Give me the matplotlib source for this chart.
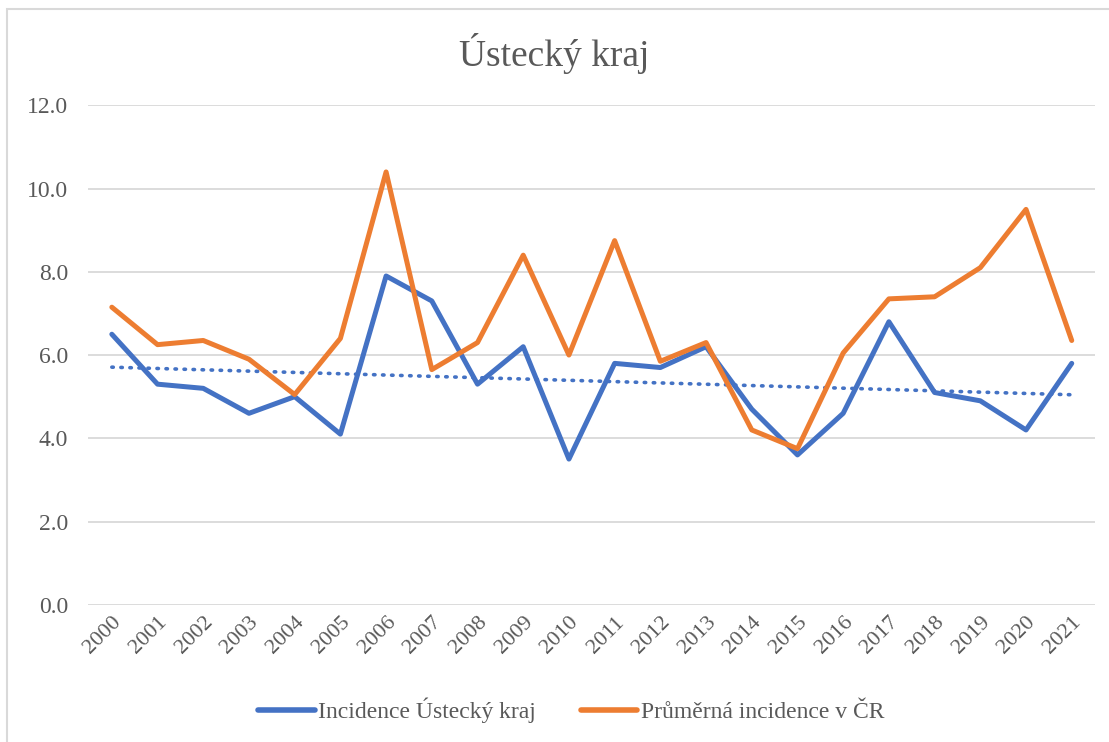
import numpy as np
import matplotlib
matplotlib.use("Agg")
import matplotlib.pyplot as plt
from matplotlib.patches import Rectangle

years = [str(y) for y in range(2000, 2022)]
usti = [6.5, 5.3, 5.2, 4.6, 5.0, 4.1, 7.9, 7.3, 5.3, 6.2, 3.5,
        5.8, 5.7, 6.2, 4.7, 3.6, 4.6, 6.8, 5.1, 4.9, 4.2, 5.8]
cr = [7.15, 6.25, 6.35, 5.9, 5.05, 6.4, 10.4, 5.65, 6.3, 8.4, 6.0,
      8.75, 5.85, 6.3, 4.2, 3.75, 6.05, 7.35, 7.4, 8.1, 9.5, 6.35]

plt.rcParams['font.family'] = ['Liberation Serif', 'DejaVu Serif']
txt = '#595959'

fig = plt.figure(figsize=(11.09, 7.42), dpi=100)
ax = fig.add_axes([0.079, 0.185, 0.908, 0.673])

x = np.arange(len(years))
ax.plot(x, usti, color='#4472C4', lw=3.6, solid_joinstyle='round', solid_capstyle='round',
        label='Incidence Ústecký kraj', zorder=3)
ax.plot(x, cr, color='#ED7D31', lw=3.6, solid_joinstyle='round', solid_capstyle='round',
        label='Průměrná incidence v ČR', zorder=3)

# linear trend of the regional series
k, q = np.polyfit(x, usti, 1)
ax.plot(x, k * x + q, color='#4472C4', lw=2.6, linestyle=(0, (0.4, 2.1)),
        dash_capstyle='round', zorder=2)

ax.set_xlim(-0.53, 21.5)
ax.set_ylim(0, 12)
ax.set_yticks(np.arange(0, 12.1, 2))
ax.set_yticklabels([f'{v:.1f}' for v in np.arange(0, 12.1, 2)])
ax.set_xticks(x)
ax.set_xticklabels(years, rotation=45, ha='right', rotation_mode='anchor')
ax.tick_params(axis='x', length=0, labelsize=16, colors=txt, pad=6)
ax.tick_params(axis='y', length=0, labelsize=17, colors=txt, pad=14)
ax.grid(axis='y', color='#D9D9D9', lw=1.3)
ax.set_axisbelow(True)
for s in ax.spines.values():
    s.set_visible(False)

fig.text(0.5, 0.928, 'Ústecký kraj', ha='center', va='center', fontsize=27, color=txt)

leg = fig.legend(loc='center', bbox_to_anchor=(0.515, 0.043), ncol=2, frameon=False,
                 fontsize=17, handlelength=2.4, columnspacing=1.9, handletextpad=0.15)
for t in leg.get_texts():
    t.set_color(txt)
for h in leg.get_lines():
    h.set_linewidth(4)
    h.set_solid_capstyle('round')

fig.patches.append(Rectangle((0.0065, -0.01), 1.0, 1.0 - 0.012 + 0.01, transform=fig.transFigure,
                             fill=False, edgecolor='#D9D9D9', lw=1.5))

fig.savefig('out.png', dpi=100)
